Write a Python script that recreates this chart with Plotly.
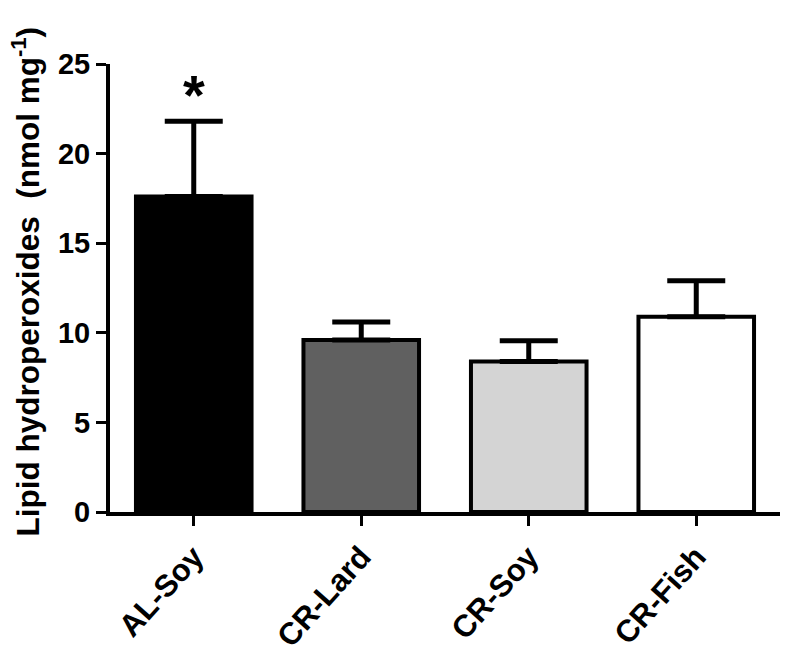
import plotly.graph_objects as go

categories = ["AL-Soy", "CR-Lard", "CR-Soy", "CR-Fish"]
means = [17.6, 9.6, 8.4, 10.9]
sem = [4.2, 1.0, 1.15, 2.0]
fill_colors = ["#000000", "#606060", "#d4d4d4", "#ffffff"]
y_ticks = [0, 5, 10, 15, 20, 25]

FONT = "Liberation Sans, Arial, Helvetica, sans-serif"

fig = go.Figure()
fig.add_trace(go.Bar(
    x=list(range(len(categories))),
    y=means,
    width=0.69,
    marker=dict(color=fill_colors, line=dict(color="black", width=4)),
    error_y=dict(type="data", symmetric=False, array=sem,
                 arrayminus=[0] * len(sem), color="black",
                 thickness=5, width=29),
    showlegend=False,
))

fig.add_annotation(
    x=0, y=means[0] + sem[0], text="*", showarrow=False,
    yanchor="bottom", yshift=-7,
    font=dict(family=FONT, size=56, color="black", weight="bold"),
)

fig.add_annotation(
    xref="paper", yref="paper", x=-0.125, y=0.515,
    text="Lipid hydroperoxides  (nmol mg<sup>-1</sup>)",
    textangle=-90, showarrow=False,
    xanchor="center", yanchor="middle", borderpad=0,
    font=dict(family=FONT, size=31.5, color="black", weight="bold"),
)

fig.update_layout(
    width=789, height=658,
    margin=dict(l=102, r=17, t=56, b=154, autoexpand=False),
    plot_bgcolor="white", paper_bgcolor="white",
    font=dict(family=FONT, color="black", weight="bold"),
)
fig.update_xaxes(
    range=[-0.5, 3.5], automargin=False,
    tickmode="array", tickvals=list(range(len(categories))), ticktext=categories,
    tickangle=-48,
    tickfont=dict(family=FONT, size=31, color="black", weight="bold"),
    showline=True, linecolor="black", linewidth=4,
    ticks="outside", ticklen=10, tickwidth=3, tickcolor="black",
    showgrid=False, zeroline=False,
    ticklabelstandoff=0,
)
fig.update_yaxes(
    range=[0, 25], automargin=False,
    tickmode="array", tickvals=y_ticks,
    tickfont=dict(family=FONT, size=29, color="black", weight="bold"),
    showline=True, linecolor="black", linewidth=4,
    ticks="outside", ticklen=10, tickwidth=3, tickcolor="black",
    showgrid=False, zeroline=False,
)

fig.write_html("out.html")
